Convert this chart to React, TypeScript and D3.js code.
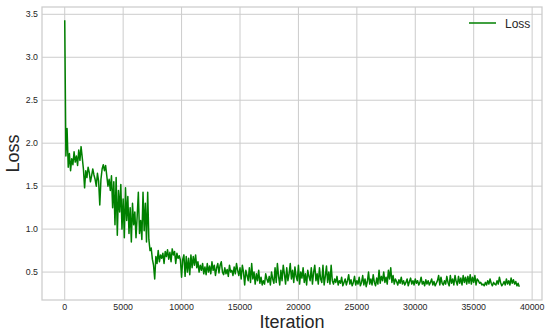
import React, { useRef, useEffect } from 'react'
import * as d3 from 'd3'

// Loss values, one every 100 iterations
const lossValues = [
  3.43, 1.85, 2.17, 1.72, 1.88, 1.68, 1.82, 1.75, 1.90, 1.78,
  1.85, 1.74, 1.92, 1.80, 1.96, 1.83, 1.70, 1.48, 1.68, 1.60,
  1.72, 1.66, 1.55, 1.62, 1.70, 1.63, 1.58, 1.50, 1.65, 1.56,
  1.28, 1.58, 1.70, 1.75, 1.68, 1.74, 1.62, 1.50, 1.58, 1.45,
  1.62, 1.25, 1.55, 1.05, 1.60, 0.93, 1.45, 1.20, 1.52, 1.00,
  1.35, 0.90, 1.48, 1.10, 1.38, 0.95, 1.25, 0.85, 1.30, 1.05,
  1.20, 0.90, 1.15, 1.43, 0.95, 1.10, 0.88, 1.43, 0.98, 1.30,
  0.85, 1.43, 0.88, 0.75, 0.78, 0.65, 0.58, 0.42, 0.68, 0.60,
  0.75, 0.62, 0.70, 0.66, 0.72, 0.60, 0.74, 0.68, 0.76, 0.65,
  0.73, 0.62, 0.77, 0.70, 0.74, 0.60, 0.72, 0.66, 0.69, 0.64,
  0.44, 0.65, 0.70, 0.45, 0.68, 0.50, 0.66, 0.47, 0.70, 0.55,
  0.68, 0.58, 0.70, 0.55, 0.62, 0.50, 0.58, 0.52, 0.60, 0.48,
  0.56, 0.47, 0.60, 0.50, 0.57, 0.48, 0.62, 0.52, 0.58, 0.46,
  0.55, 0.60, 0.49, 0.58, 0.62, 0.50, 0.47, 0.55, 0.48, 0.53,
  0.45, 0.58, 0.50, 0.52, 0.46, 0.56, 0.48, 0.60, 0.52, 0.46,
  0.55, 0.42, 0.58, 0.50, 0.35, 0.52, 0.46, 0.40, 0.55, 0.38,
  0.60, 0.42, 0.50, 0.36, 0.48, 0.40, 0.52, 0.37, 0.44, 0.35,
  0.40, 0.36, 0.48, 0.42, 0.38, 0.45, 0.35, 0.50, 0.42, 0.37,
  0.55, 0.38, 0.60, 0.45, 0.35, 0.52, 0.40, 0.58, 0.48, 0.36,
  0.55, 0.40, 0.48, 0.60, 0.42, 0.52, 0.38, 0.56, 0.45, 0.40,
  0.58, 0.36, 0.50, 0.43, 0.55, 0.38, 0.48, 0.35, 0.52, 0.45,
  0.40, 0.55, 0.36, 0.50, 0.58, 0.40, 0.48, 0.36, 0.55, 0.42,
  0.38, 0.58, 0.35, 0.45, 0.57, 0.38, 0.50, 0.36, 0.58, 0.40,
  0.36, 0.42, 0.38, 0.45, 0.35, 0.40, 0.37, 0.44, 0.34, 0.38,
  0.42, 0.35, 0.40, 0.47, 0.36, 0.41, 0.34, 0.38, 0.45, 0.35,
  0.40, 0.36, 0.44, 0.34, 0.38, 0.46, 0.35, 0.42, 0.33, 0.39,
  0.50, 0.36, 0.42, 0.35, 0.47, 0.38, 0.34, 0.43, 0.36, 0.52,
  0.37, 0.45, 0.40, 0.50, 0.38, 0.44, 0.36, 0.52, 0.42, 0.55,
  0.38, 0.46, 0.36, 0.42, 0.39, 0.35, 0.41, 0.37, 0.44, 0.36,
  0.40, 0.35, 0.38, 0.42, 0.34, 0.39, 0.43, 0.36, 0.40, 0.35,
  0.42, 0.37, 0.40, 0.35, 0.38, 0.44, 0.36, 0.39, 0.34, 0.41,
  0.36, 0.40, 0.35, 0.38, 0.42, 0.35, 0.39, 0.34, 0.37, 0.40,
  0.46, 0.35, 0.44, 0.37, 0.35, 0.40, 0.36, 0.45, 0.38, 0.34,
  0.46, 0.37, 0.42, 0.35, 0.46, 0.39, 0.35, 0.45, 0.37, 0.43,
  0.35, 0.46, 0.38, 0.44, 0.36, 0.45, 0.37, 0.47, 0.36, 0.44,
  0.38, 0.46, 0.35, 0.42, 0.40, 0.37, 0.38, 0.35, 0.36, 0.34,
  0.38, 0.35, 0.40, 0.36, 0.42, 0.37, 0.34, 0.38, 0.36, 0.35,
  0.40, 0.36, 0.44, 0.38, 0.34, 0.36, 0.39, 0.35, 0.42, 0.36,
  0.40, 0.35, 0.43, 0.37, 0.41, 0.36, 0.39, 0.34, 0.37, 0.33,
]
const iterations = lossValues.map((_, i) => i * 100)

const xTicks = [0, 5000, 10000, 15000, 20000, 25000, 30000, 35000, 40000]
const yTicks = [0.5, 1.0, 1.5, 2.0, 2.5, 3.0, 3.5]

const W = 550
const H = 332
const margin = { left: 42, right: 8, top: 7, bottom: 32 }
const FONT = '"Liberation Sans", Arial, sans-serif'
const GRID = '#cccccc'
const TEXT = '#262626'

const App = () => {
  const svgRef = useRef<SVGSVGElement>(null)

  useEffect(() => {
    const svg = d3.select(svgRef.current)
    svg.selectAll('*').remove()

    const x0 = margin.left
    const x1 = W - margin.right
    const y0 = H - margin.bottom
    const y1 = margin.top

    // matplotlib-like 5% padding around the data range
    const xMin = d3.min(iterations)!
    const xMax = d3.max(iterations)!
    const yMin = d3.min(lossValues)!
    const yMax = d3.max(lossValues)!
    const xPad = (xMax - xMin) * 0.05
    const yPad = (yMax - yMin) * 0.05

    const xScale = d3.scaleLinear().domain([xMin - xPad, xMax + xPad]).range([x0, x1])
    const yScale = d3.scaleLinear().domain([yMin - yPad, yMax + yPad]).range([y0, y1])

    // grid
    svg.append('g')
      .selectAll('line')
      .data(xTicks)
      .join('line')
      .attr('x1', d => xScale(d)).attr('x2', d => xScale(d))
      .attr('y1', y1).attr('y2', y0)
      .attr('stroke', GRID).attr('stroke-width', 1)

    svg.append('g')
      .selectAll('line')
      .data(yTicks)
      .join('line')
      .attr('x1', x0).attr('x2', x1)
      .attr('y1', d => yScale(d)).attr('y2', d => yScale(d))
      .attr('stroke', GRID).attr('stroke-width', 1)

    // frame
    svg.append('rect')
      .attr('x', x0).attr('y', y1)
      .attr('width', x1 - x0).attr('height', y0 - y1)
      .attr('fill', 'none')
      .attr('stroke', GRID).attr('stroke-width', 1.25)

    // tick labels
    svg.append('g')
      .selectAll('text')
      .data(xTicks)
      .join('text')
      .attr('x', d => xScale(d))
      .attr('y', y0 + 10)
      .attr('text-anchor', 'middle')
      .attr('font-family', FONT).attr('font-size', 8.8)
      .attr('fill', TEXT)
      .text(d => String(d))

    svg.append('g')
      .selectAll('text')
      .data(yTicks)
      .join('text')
      .attr('x', x0 - 4)
      .attr('y', d => yScale(d) + 3)
      .attr('text-anchor', 'end')
      .attr('font-family', FONT).attr('font-size', 8.8)
      .attr('fill', TEXT)
      .text(d => d.toFixed(1))

    // loss line
    const line = d3.line<number>()
      .x((_, i) => xScale(iterations[i]))
      .y(d => yScale(d))

    svg.append('path')
      .datum(lossValues)
      .attr('d', line)
      .attr('fill', 'none')
      .attr('stroke', '#008000')
      .attr('stroke-width', 1.5)
      .attr('stroke-linejoin', 'round')

    // axis labels
    svg.append('text')
      .attr('x', (x0 + x1) / 2)
      .attr('y', 328)
      .attr('text-anchor', 'middle')
      .attr('font-family', FONT).attr('font-size', 18)
      .attr('fill', TEXT)
      .text('Iteration')

    svg.append('text')
      .attr('transform', `translate(19, ${(y0 + y1) / 2}) rotate(-90)`)
      .attr('text-anchor', 'middle')
      .attr('font-family', FONT).attr('font-size', 18)
      .attr('fill', TEXT)
      .text('Loss')

    // legend
    const legend = svg.append('g')
    legend.append('line')
      .attr('x1', 469).attr('x2', 496)
      .attr('y1', 23).attr('y2', 23)
      .attr('stroke', '#008000').attr('stroke-width', 1.5)
    legend.append('text')
      .attr('x', 505).attr('y', 27.5)
      .attr('font-family', FONT).attr('font-size', 12)
      .attr('fill', TEXT)
      .text('Loss')
  }, [])

  return (
    <svg ref={svgRef} width={W} height={H}
      style={{ position: 'absolute', left: 0, top: 0, background: 'white' }} />
  )
}

export default App
